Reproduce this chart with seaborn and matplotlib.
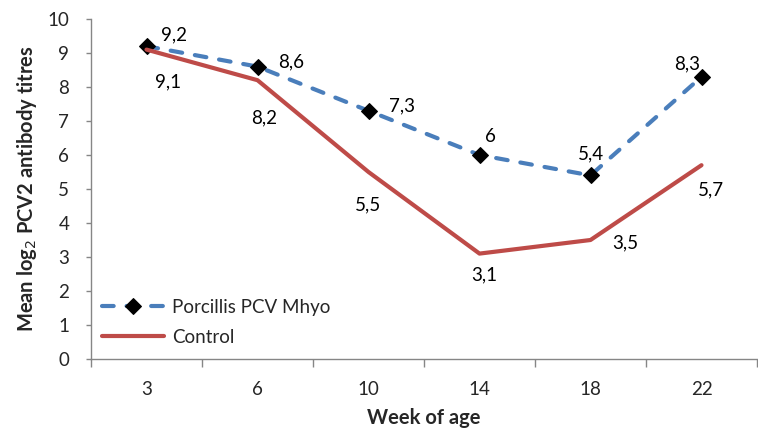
import matplotlib
matplotlib.use("Agg")
import matplotlib.pyplot as plt
import seaborn as sns
import numpy as np
import pandas as pd

weeks = ["3", "6", "10", "14", "18", "22"]
porcillis = [9.2, 8.6, 7.3, 6.0, 5.4, 8.3]
control = [9.1, 8.2, 5.5, 3.1, 3.5, 5.7]
porcillis_labels = ["9,2", "8,6", "7,3", "6", "5,4", "8,3"]
control_labels = ["9,1", "8,2", "5,5", "3,1", "3,5", "5,7"]
series_names = ["Porcillis PCV Mhyo", "Control"]

sns.set_theme(style="white")
plt.rcParams["font.family"] = ["Lato", "DejaVu Sans"]

W, H = 758, 429
fig = plt.figure(figsize=(W / 100, H / 100), dpi=100)
left_px, right_px, bottom_px, top_px = 91, 757, 359, 19
ax = fig.add_axes([left_px / W, (H - bottom_px) / H, (right_px - left_px) / W, (bottom_px - top_px) / H])

pos = np.arange(len(weeks))
df = pd.DataFrame({
    "pos": np.concatenate([pos, pos]),
    "value": porcillis + control,
    "series": [series_names[0]] * len(weeks) + [series_names[1]] * len(weeks),
})

blue = "#4a7ebb"
red = "#be4b48"
sns.lineplot(data=df[df.series == series_names[0]], x="pos", y="value", ax=ax,
             color=blue, lw=3, linestyle=(0, (2.8, 3.1)), dash_capstyle="round",
             marker="D", markersize=8,
             markerfacecolor="black", markeredgecolor="black", label=series_names[0])
sns.lineplot(data=df[df.series == series_names[1]], x="pos", y="value", ax=ax,
             color=red, lw=3, label=series_names[1])

fs = 13.5
p_off = [(27, 11), (34, 5), (34, 5), (11, 18), (0, 22), (-14, 13)]
c_off = [(22, -32), (7, -38), (0, -33), (5, -21), (35, -3), (9, -25)]
for i in range(len(weeks)):
    ax.annotate(porcillis_labels[i], (pos[i], porcillis[i]), xytext=p_off[i],
                textcoords="offset pixels", ha="center", va="center", fontsize=fs, color="black")
    ax.annotate(control_labels[i], (pos[i], control[i]), xytext=c_off[i],
                textcoords="offset pixels", ha="center", va="center", fontsize=fs, color="black")

ax.set_ylim(0, 10)
ax.set_yticks(range(0, 11))
ax.set_xlim(-0.5, -0.5 + (right_px - left_px) / 112.5)
ax.set_xticks(pos)
ax.set_xticklabels(weeks)
ax.set_xticks(np.arange(-0.5, len(weeks), 1.0), minor=True)
ax.tick_params(axis="x", which="major", length=0, pad=16, labelsize=fs)
ax.tick_params(axis="x", which="minor", length=6, width=1, color="#868686", direction="out", bottom=True)
ax.tick_params(axis="y", length=3.6, width=1, color="#868686", direction="out", left=True, labelsize=fs, pad=12)

for s in ["top", "right"]:
    ax.spines[s].set_visible(False)
for s in ["left", "bottom"]:
    ax.spines[s].set_color("#868686")
    ax.spines[s].set_linewidth(1)

ax.set_xlabel("Week of age", fontsize=14.5, fontweight="bold", labelpad=7)
ax.set_ylabel("Mean log$_2$ PCV2 antibody titres", fontsize=14.5, fontweight="bold", labelpad=6)

ax.legend(loc="lower left", bbox_to_anchor=(0.005, 0.016), frameon=False, fontsize=fs,
          handlelength=3.3, handletextpad=0.43, labelspacing=0.7, borderaxespad=0.0)

fig.savefig("out.png", dpi=100)
